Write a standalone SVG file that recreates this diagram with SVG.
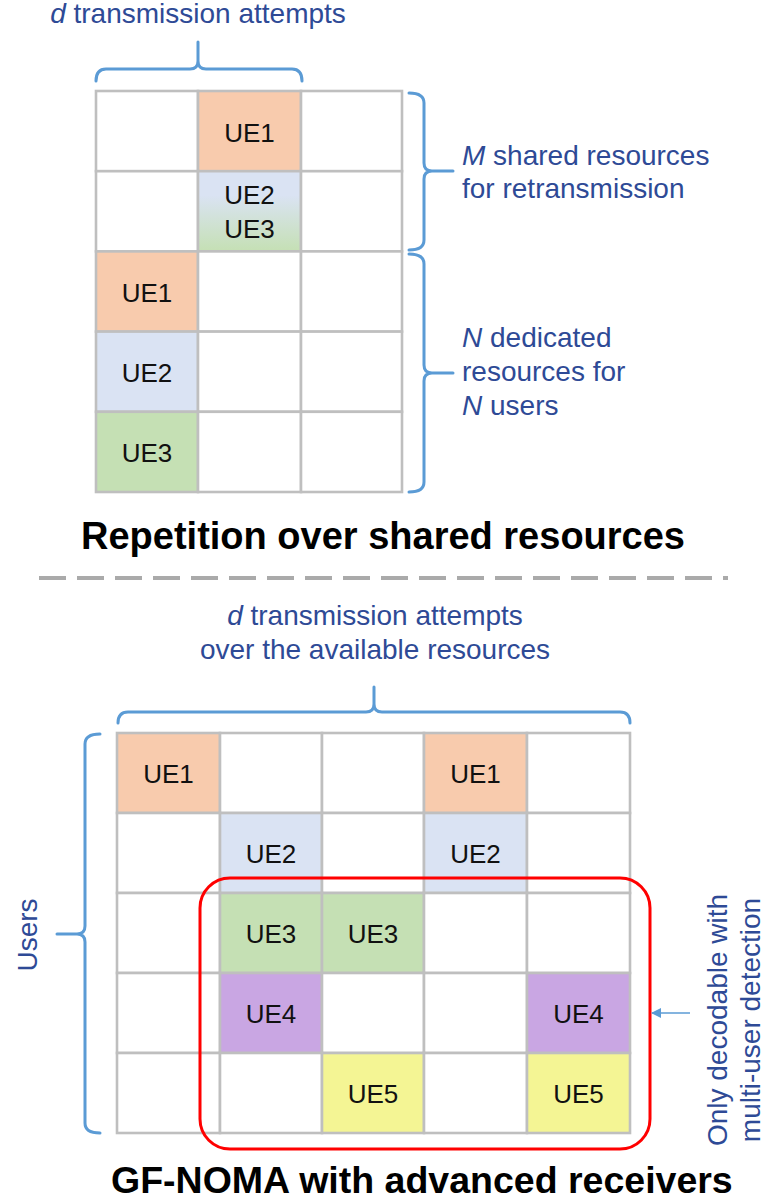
<svg xmlns="http://www.w3.org/2000/svg" width="764" height="1202" viewBox="0 0 764 1202">
<style>
  text { font-family: "Liberation Sans", Arial, sans-serif; }
  .lbl { font-size: 28px; fill: #2E4A96; }
  .ue { font-size: 26px; fill: #111111; text-anchor: middle; }
  .title { font-size: 38px; font-weight: bold; fill: #000000; }
  .cell { stroke: #BFBFBF; stroke-width: 2.6; }
  .w { fill: #FFFFFF; }
  .o { fill: #F8CBAD; }
  .b { fill: #DAE3F3; }
  .g { fill: #C5E0B4; }
  .p { fill: #C9A6E3; }
  .y { fill: #F4F594; }
  .brace { fill: none; stroke: #5B9BD5; stroke-width: 3; stroke-linecap: round; }
</style>
<defs>
  <linearGradient id="bg" x1="0" y1="0" x2="0" y2="1">
    <stop offset="0.3" stop-color="#DAE3F3"/>
    <stop offset="1" stop-color="#C5E0B4"/>
  </linearGradient>
  <marker id="ah" markerWidth="10" markerHeight="10" refX="9" refY="5" orient="auto" markerUnits="userSpaceOnUse">
    <path d="M0,0 L10,5 L0,10 Z" fill="#5B9BD5"/>
  </marker>
</defs>
<rect x="0" y="0" width="764" height="1202" fill="#FFFFFF"/>

<g id="top-grid">
  <rect class="cell w" x="96" y="91" width="102" height="80.2"/>
  <rect class="cell o" x="198" y="91" width="103" height="80.2"/>
  <rect class="cell w" x="301" y="91" width="101" height="80.2"/>
  <rect class="cell w" x="96" y="171.2" width="102" height="80.2"/>
  <rect class="cell" fill="url(#bg)" x="198" y="171.2" width="103" height="80.2"/>
  <rect class="cell w" x="301" y="171.2" width="101" height="80.2"/>
  <rect class="cell o" x="96" y="251.4" width="102" height="80.2"/>
  <rect class="cell w" x="198" y="251.4" width="103" height="80.2"/>
  <rect class="cell w" x="301" y="251.4" width="101" height="80.2"/>
  <rect class="cell b" x="96" y="331.6" width="102" height="80.2"/>
  <rect class="cell w" x="198" y="331.6" width="103" height="80.2"/>
  <rect class="cell w" x="301" y="331.6" width="101" height="80.2"/>
  <rect class="cell g" x="96" y="411.8" width="102" height="80.2"/>
  <rect class="cell w" x="198" y="411.8" width="103" height="80.2"/>
  <rect class="cell w" x="301" y="411.8" width="101" height="80.2"/>
  <text class="ue" x="249.5" y="142">UE1</text>
  <text class="ue" x="249.5" y="204">UE2</text>
  <text class="ue" x="249.5" y="238">UE3</text>
  <text class="ue" x="147" y="302">UE1</text>
  <text class="ue" x="147" y="382">UE2</text>
  <text class="ue" x="147" y="462">UE3</text>
</g>

<g id="bottom-grid">
  <rect class="cell o" x="117" y="733" width="103" height="80"/>
  <rect class="cell w" x="220" y="733" width="102" height="80"/>
  <rect class="cell w" x="322" y="733" width="102" height="80"/>
  <rect class="cell o" x="424" y="733" width="103" height="80"/>
  <rect class="cell w" x="527" y="733" width="103" height="80"/>

  <rect class="cell w" x="117" y="813" width="103" height="80"/>
  <rect class="cell b" x="220" y="813" width="102" height="80"/>
  <rect class="cell w" x="322" y="813" width="102" height="80"/>
  <rect class="cell b" x="424" y="813" width="103" height="80"/>
  <rect class="cell w" x="527" y="813" width="103" height="80"/>

  <rect class="cell w" x="117" y="893" width="103" height="80"/>
  <rect class="cell g" x="220" y="893" width="102" height="80"/>
  <rect class="cell g" x="322" y="893" width="102" height="80"/>
  <rect class="cell w" x="424" y="893" width="103" height="80"/>
  <rect class="cell w" x="527" y="893" width="103" height="80"/>

  <rect class="cell w" x="117" y="973" width="103" height="80"/>
  <rect class="cell p" x="220" y="973" width="102" height="80"/>
  <rect class="cell w" x="322" y="973" width="102" height="80"/>
  <rect class="cell w" x="424" y="973" width="103" height="80"/>
  <rect class="cell p" x="527" y="973" width="103" height="80"/>

  <rect class="cell w" x="117" y="1053" width="103" height="80"/>
  <rect class="cell w" x="220" y="1053" width="102" height="80"/>
  <rect class="cell y" x="322" y="1053" width="102" height="80"/>
  <rect class="cell w" x="424" y="1053" width="103" height="80"/>
  <rect class="cell y" x="527" y="1053" width="103" height="80"/>

  <text class="ue" x="168.5" y="783">UE1</text>
  <text class="ue" x="475.5" y="783">UE1</text>
  <text class="ue" x="271" y="863">UE2</text>
  <text class="ue" x="475.5" y="863">UE2</text>
  <text class="ue" x="271" y="943">UE3</text>
  <text class="ue" x="373" y="943">UE3</text>
  <text class="ue" x="271" y="1023">UE4</text>
  <text class="ue" x="578.5" y="1023">UE4</text>
  <text class="ue" x="373" y="1103">UE5</text>
  <text class="ue" x="578.5" y="1103">UE5</text>
</g>

<g id="mud-region">
  <rect x="200" y="878" width="450" height="271" rx="30" ry="30" fill="none" stroke="#FF0000" stroke-width="3"/>
</g>

<g id="connectors">
  <path class="brace" d="M96,81 Q96,69 106,69 H190 Q198,69 198,61 V42 M198,61 Q198,69 206,69 H292 Q302,69 302,81"/>
  <path class="brace" d="M409,93 Q424,93 424,103 V163 Q424,171 432,171 H453 M432,171 Q424,171 424,179 V240 Q424,250 409,250"/>
  <path class="brace" d="M409,254 Q424,254 424,264 V365 Q424,373 432,373 H453 M432,373 Q424,373 424,381 V482 Q424,492 409,492"/>
  <path class="brace" d="M118,723 Q118,712 128,712 H366 Q374,712 374,704 V687 M374,704 Q374,712 382,712 H620 Q630,712 630,723"/>
  <path class="brace" d="M100,734 Q85,734 85,744 V926 Q85,934 77,934 H57 M77,934 Q85,934 85,942 V1123 Q85,1133 100,1133"/>
  <line x1="690" y1="1013" x2="652" y2="1013" stroke="#5B9BD5" stroke-width="1.6" marker-end="url(#ah)"/>
  <line x1="39" y1="578" x2="728" y2="578" stroke="#AAAAAA" stroke-width="4" stroke-dasharray="27 11"/>
</g>

<g id="label-top-d">
  <text class="lbl" x="198" y="23" text-anchor="middle"><tspan font-style="italic">d</tspan> transmission attempts</text>
</g>
<g id="label-m">
  <text class="lbl" x="462" y="165"><tspan font-style="italic">M</tspan> shared resources</text>
  <text class="lbl" x="462" y="198">for retransmission</text>
</g>
<g id="label-n">
  <text class="lbl" x="462" y="347"><tspan font-style="italic">N</tspan> dedicated</text>
  <text class="lbl" x="462" y="381">resources for</text>
  <text class="lbl" x="462" y="415"><tspan font-style="italic">N</tspan> users</text>
</g>
<g id="title-top">
  <text class="title" x="81" y="549">Repetition over shared resources</text>
</g>
<g id="label-bottom-d">
  <text class="lbl" x="375" y="625" text-anchor="middle"><tspan font-style="italic">d</tspan> transmission attempts</text>
  <text class="lbl" x="375" y="659" text-anchor="middle">over the available resources</text>
</g>
<g id="label-users">
  <text class="lbl" transform="translate(37,935) rotate(-90)" text-anchor="middle">Users</text>
</g>
<g id="label-mud">
  <text class="lbl" transform="translate(727,1020) rotate(-90)" text-anchor="middle">Only decodable with</text>
  <text class="lbl" transform="translate(760,1020) rotate(-90)" text-anchor="middle">multi-user detection</text>
</g>
<g id="title-bottom">
  <text class="title" x="111" y="1193" style="font-size:37.5px">GF-NOMA with advanced receivers</text>
</g>
</svg>
